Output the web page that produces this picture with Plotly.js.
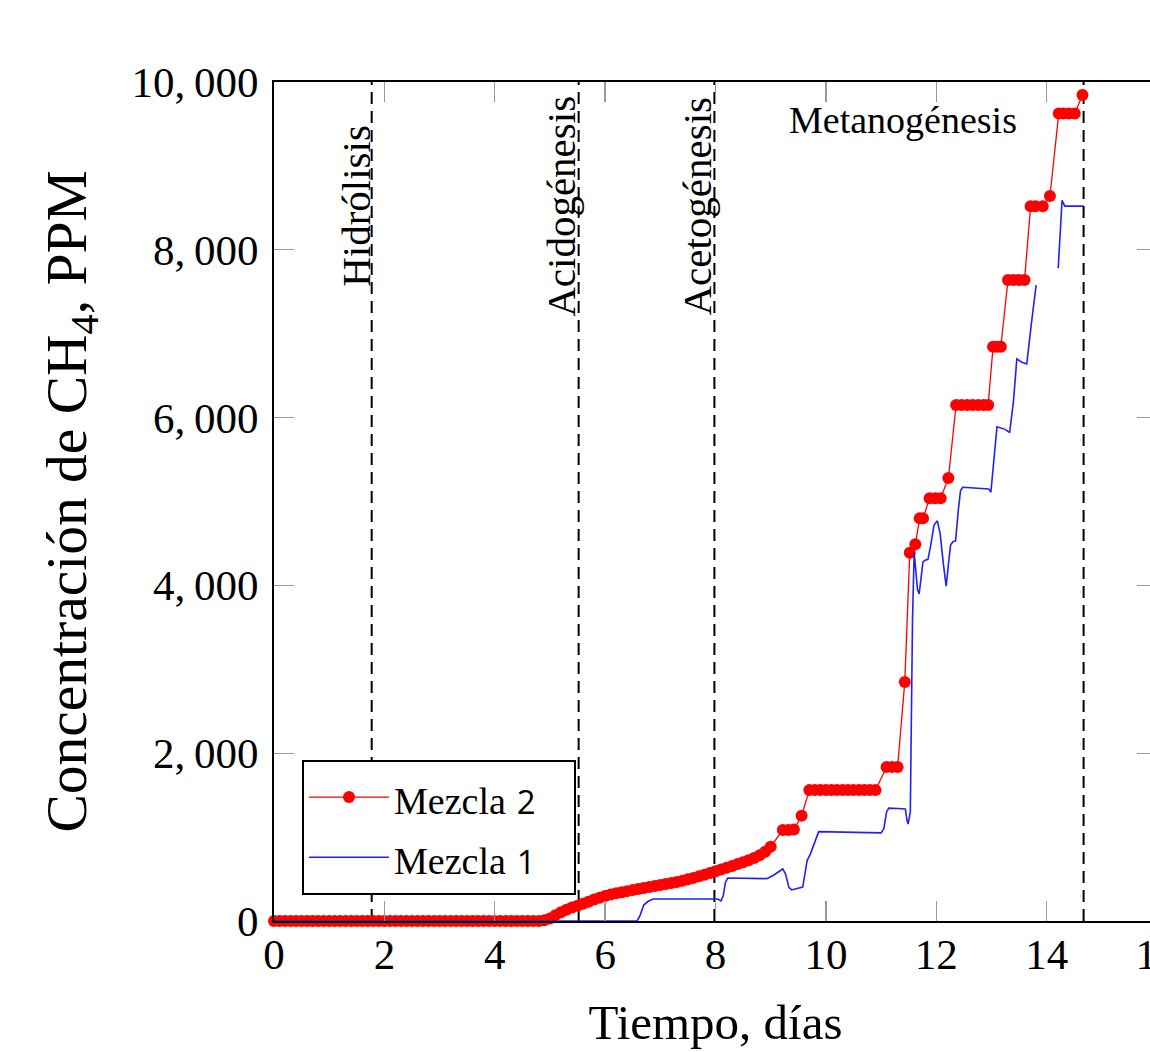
<!DOCTYPE html>
<html><head><meta charset="utf-8">
<script src="https://cdn.plot.ly/plotly-3.0.1.min.js"></script>
<style>html,body{margin:0;padding:0;overflow:hidden;background:#fff;}#chart{width:1200px;height:1052px;}</style>
</head><body><div id="chart"></div><script>
// Mezcla 2 (red, markers)
const mezcla2X = [0,0.1,0.2,0.3,0.4,0.5,0.6,0.7,0.8,0.9,1.0,1.1,1.2,1.3,1.4,1.5,1.6,1.7,1.8,1.9,2.0,2.1,2.2,2.3,2.4,2.5,2.6,2.7,2.8,2.9,3.0,3.1,3.2,3.3,3.4,3.5,3.6,3.7,3.8,3.9,4.0,4.1,4.2,4.3,4.4,4.5,4.6,4.7,4.8,4.9,
 5.0,5.1,5.2,5.3,5.4,5.5,5.6,5.7,5.8,5.9,6.0,6.1,6.2,6.3,6.4,6.5,6.6,6.7,6.8,6.9,7.0,7.1,7.2,7.3,7.4,7.5,7.6,7.7,7.8,7.9,8.0,8.1,8.2,8.3,8.4,8.5,8.6,8.7,8.8,8.9,9.0,
 9.22,9.32,9.42,9.56,
 9.7,9.8,9.9,10.0,10.1,10.2,10.3,10.4,10.5,10.6,10.7,10.8,10.9,
 11.1,11.2,11.3,11.43,11.52,11.62,11.7,11.76,11.88,11.98,12.08,12.22,
 12.36,12.46,12.56,12.66,12.76,12.86,12.94,13.03,13.1,13.17,
 13.3,13.4,13.5,13.6,13.71,13.8,13.93,14.06,14.22,14.3,14.4,14.51,14.65];
const mezcla2Y = [0,0,0,0,0,0,0,0,0,0,0,0,0,0,0,0,0,0,0,0,0,0,0,0,0,0,0,0,0,0,0,0,0,0,0,0,0,0,0,0,0,0,0,0,0,0,0,0,0,10,
 30,70,105,135,160,182,205,230,255,278,298,315,330,344,356,368,380,392,404,416,428,440,453,466,480,497,514,532,551,572,594,615,635,656,678,700,725,752,785,825,885,
 1085,1085,1090,1255,
 1560,1560,1560,1560,1560,1560,1560,1560,1560,1560,1560,1560,1560,
 1835,1835,1835,2850,4390,4490,4800,4800,5040,5040,5040,5280,
 6150,6150,6150,6150,6150,6150,6150,6845,6845,6845,
 7640,7640,7640,7640,8520,8520,8520,8640,9625,9625,9625,9625,9845];

// Mezcla 1 (blue, line)
const mezcla1X = [0,6.58,6.63,6.7,6.78,6.87,8.04,8.1,8.14,8.18,8.22,8.93,9.05,9.22,9.27,9.33,9.38,9.45,9.58,9.62,9.66,9.72,9.8,9.87,
 11.0,11.05,11.1,11.14,11.3,11.44,11.47,11.49,11.53,11.57,11.6,11.63,11.66,11.69,11.72,11.76,11.8,11.85,11.9,11.96,12.02,12.07,12.13,12.18,
 12.22,12.26,12.3,12.35,12.4,12.44,12.48,12.7,12.95,12.99,13.04,13.1,13.25,13.33,13.4,13.46,13.55,13.64,13.72,13.81,
 13.9,14.21,14.28,14.33,14.67];
const mezcla1Y = [0,0,60,190,235,262,262,240,300,460,512,505,545,620,560,400,370,385,405,560,720,800,950,1065,
 1050,1100,1300,1345,1340,1335,1200,1155,1300,3600,4390,4200,3950,3900,4100,4280,4300,4310,4480,4720,4770,4620,4250,3990,
 4250,4480,4520,4530,4900,5130,5170,5160,5150,5110,5500,5890,5860,5820,6200,6700,6660,6640,7100,7580,
 null,7780,8590,8520,8520];

const xTicks = [0,2,4,6,8,10,12,14,16];
const yTickVals = [0,2000,4000,6000,8000,10000];
const yTickText = ['0','2,\u2009000','4,\u2009000','6,\u2009000','8,\u2009000','10,\u2009000'];

const phaseNames = ['Hidrólisis','Acidogénesis','Acetogénesis','Metanogénesis'];
const phaseLines = [1.77,5.52,7.98,14.67];

const serif = 'Liberation Serif, Times New Roman, serif';
const digitStyle = 'font-family:Open Sans, sans-serif;font-size:33px';

const traces = [
  {x: mezcla2X, y: mezcla2Y, type:'scatter', mode:'lines+markers',
   name:'<span style="font-size:38px">Mezcla</span> <span style="' + digitStyle + '">2</span>\u00a0\u00a0\u00a0',
   line:{color:'#ff0000', width:1.3}, marker:{color:'#ff0000', size:12}, cliponaxis:false},
  {x: mezcla1X, y: mezcla1Y, type:'scatter', mode:'lines',
   name:'<span style="font-size:38px">Mezcla</span> <span style="' + digitStyle + '">1</span>\u00a0\u00a0\u00a0',
   line:{color:'#2020ff', width:1.6}, cliponaxis:false}
];

const shapes = phaseLines.map(v => ({type:'line', xref:'x', yref:'paper', x0:v, x1:v, y0:0, y1:1,
  line:{color:'#000', width:2, dash:'12px,7px'}, layer:'below'}));

const annotations = [
  {text:phaseNames[0], x:phaseLines[0], xref:'x', y:0.852, yref:'paper', textangle:-90, xanchor:'center', yanchor:'middle', xshift:-16, showarrow:false, font:{family:serif, size:41, color:'#000'}},
  {text:phaseNames[1], x:phaseLines[1], xref:'x', y:0.852, yref:'paper', textangle:-90, xanchor:'center', yanchor:'middle', xshift:-17, showarrow:false, font:{family:serif, size:41, color:'#000'}},
  {text:phaseNames[2], x:phaseLines[2], xref:'x', y:0.852, yref:'paper', textangle:-90, xanchor:'center', yanchor:'middle', xshift:-17, showarrow:false, font:{family:serif, size:41, color:'#000'}},
  {text:phaseNames[3], x:11.4, xref:'x', y:0.955, yref:'paper', xanchor:'center', yanchor:'middle', showarrow:false, font:{family:serif, size:38, color:'#000'}}
];

const layout = {
  width:1200, height:1052,
  margin:{l:274, r:43, t:82, b:131, pad:0},
  paper_bgcolor:'#fff', plot_bgcolor:'#fff',
  showlegend:true,
  legend:{x:0.0317, y:0.031, xanchor:'left', yanchor:'bottom', bgcolor:'#fff', bordercolor:'#000', borderwidth:2,
    font:{family:serif, size:44, color:'#000'}, itemwidth:80},
  xaxis:{range:[0,16], tickvals:xTicks, ticks:'inside', ticklen:20, tickwidth:1.3, tickcolor:'#999999',
    showline:true, linecolor:'#000', linewidth:2, mirror:'allticks', showgrid:false, zeroline:false,
    tickfont:{family:serif, size:43, color:'#000'}, ticklabelstandoff:-6,
    title:{text:'Tiempo, días', font:{family:serif, size:49, color:'#000'}, standoff:28}},
  yaxis:{range:[0,10000], tickvals:yTickVals, ticktext:yTickText, ticks:'inside', ticklen:20, tickwidth:1.3, tickcolor:'#999999',
    showline:true, linecolor:'#000', linewidth:2, mirror:'allticks', showgrid:false, zeroline:false,
    tickfont:{family:serif, size:43, color:'#000'}, ticklabelstandoff:5,
    title:{text:'Concentración de CH<sub>4</sub>, PPM', font:{family:serif, size:57.5, color:'#000'}, standoff:26}},
  shapes:shapes, annotations:annotations
};

Plotly.newPlot('chart', traces, layout, {displayModeBar:false, staticPlot:true});
</script></body></html>
